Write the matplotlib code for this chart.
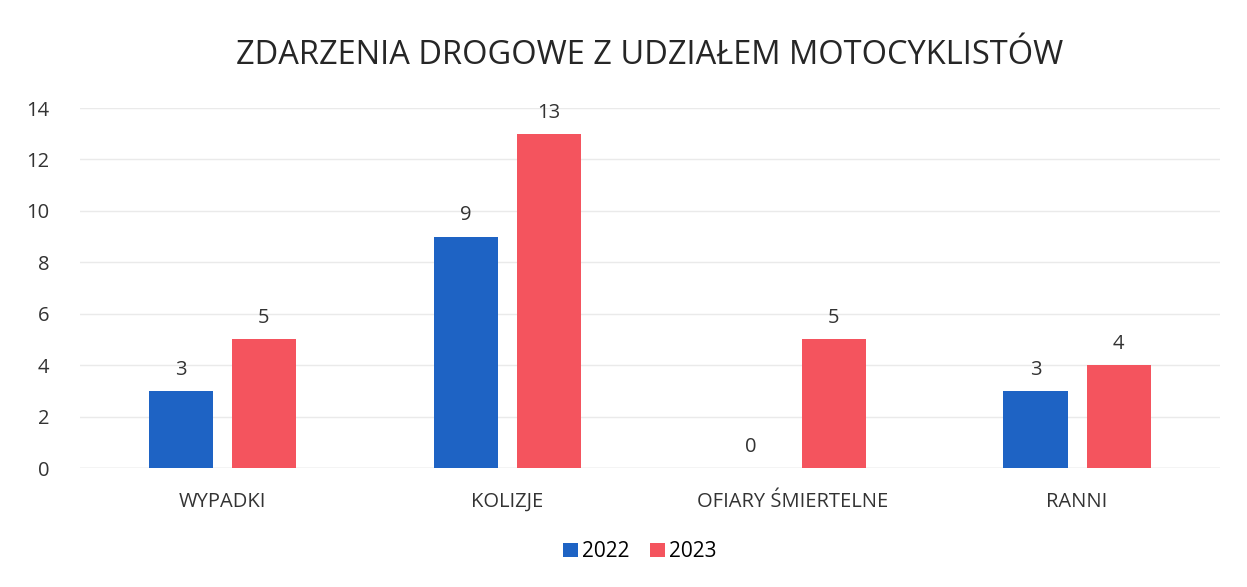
import matplotlib
matplotlib.use("Agg")
import matplotlib.pyplot as plt
import numpy as np

categories = ["WYPADKI", "KOLIZJE", "OFIARY ŚMIERTELNE", "RANNI"]
series_names = ["2022", "2023"]
values_2022 = [3, 9, 0, 3]
values_2023 = [5, 13, 5, 4]
yticks = [0, 2, 4, 6, 8, 10, 12, 14]

plt.rcParams['font.family'] = ['Open Sans', 'DejaVu Sans']

fig = plt.figure(figsize=(12.47, 5.87), dpi=100)
ax = fig.add_axes([0.064, 0.2027, 0.914, 0.6133])

x = np.arange(len(categories))
w = 0.225
off = 0.146
c1, c2 = '#1E63C4', '#F4545E'
b1 = ax.bar(x - off, values_2022, w, color=c1, label=series_names[0], zorder=3)
b2 = ax.bar(x + off, values_2023, w, color=c2, label=series_names[1], zorder=3)
for bars in (b1, b2):
    for r in bars:
        h = r.get_height()
        ax.annotate(f"{h:g}", (r.get_x() + r.get_width() / 2, h), xytext=(0, 8),
                    textcoords='offset points', ha='center', va='bottom',
                    fontsize=14.5, color='#333333')

ax.set_xlim(-0.5, len(categories) - 0.5)
ax.set_ylim(0, 14)
ax.set_yticks(yticks)
ax.set_xticks(x)
ax.set_xticklabels(categories, fontsize=14.5, color='#333333')
ax.tick_params(axis='y', labelsize=14.5, colors='#333333', length=0, pad=22)
ax.tick_params(axis='x', length=0, pad=17)
ax.grid(axis='y', color='#EAEAEA', linewidth=1, zorder=0)
for s in ax.spines.values():
    s.set_visible(False)
ax.axhline(0, color='#E0E0E0', linewidth=1, zorder=2)

fig.text(0.521, 0.906, "ZDARZENIA DROGOWE Z UDZIAŁEM MOTOCYKLISTÓW", ha='center', va='center',
         fontsize=23.5, color='#262626')
fig.legend(handles=[b1, b2], labels=series_names, loc='center', bbox_to_anchor=(0.513, 0.06),
           ncol=2, frameon=False, fontsize=15, handlelength=0.7, handleheight=0.7,
           handletextpad=0.2, columnspacing=1.0)

fig.savefig("out.png", dpi=100, facecolor='white')
